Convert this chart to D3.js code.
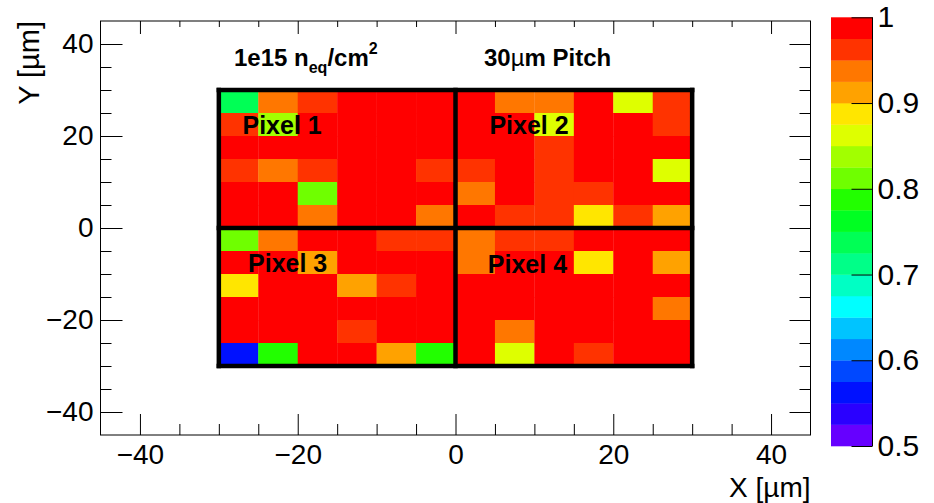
<!DOCTYPE html>
<html>
<head>
<meta charset="utf-8">
<script src="https://cdn.jsdelivr.net/npm/d3@7"></script>
<style>
  html, body { margin: 0; padding: 0; background: #fff; }
  svg { display: block; font-family: "Liberation Sans", Arial, Helvetica, sans-serif; }
</style>
</head>
<body>
<svg id="chart" width="934" height="503"></svg>
<script>
// Bin lower edges (µm): 6 bins of 5 µm across each 30 µm pixel
const xEdgesLeft  = [-30, -25, -20, -15, -10, -5];
const xEdgesRight = [0, 5, 10, 15, 20, 25];
const yEdgesTop    = [25, 20, 15, 10, 5, 0];        // rows listed top to bottom
const yEdgesBottom = [-5, -10, -15, -20, -25, -30];

// Efficiency per bin, rows top to bottom, columns left to right
const pixel1 = [
  [0.745, 0.935, 0.960, 0.990, 0.995, 0.985],
  [0.962, 0.835, 0.980, 0.990, 0.990, 0.985],
  [0.985, 0.990, 0.980, 0.995, 0.990, 0.980],
  [0.958, 0.930, 0.965, 0.985, 0.980, 0.960],
  [0.985, 0.980, 0.812, 0.990, 0.985, 0.990],
  [0.980, 0.990, 0.935, 0.990, 0.985, 0.938]
];
const pixel2 = [
  [0.985, 0.935, 0.940, 0.990, 0.860, 0.960],
  [0.980, 0.990, 0.865, 0.985, 0.980, 0.965],
  [0.990, 0.980, 0.960, 0.990, 0.985, 0.980],
  [0.962, 0.980, 0.968, 0.990, 0.980, 0.862],
  [0.932, 0.985, 0.960, 0.963, 0.990, 0.980],
  [0.980, 0.960, 0.958, 0.885, 0.965, 0.910]
];
const pixel3 = [
  [0.815, 0.935, 0.980, 0.990, 0.960, 0.965],
  [0.985, 0.980, 0.912, 0.990, 0.980, 0.985],
  [0.888, 0.980, 0.990, 0.908, 0.960, 0.985],
  [0.990, 0.985, 0.980, 0.990, 0.985, 0.980],
  [0.985, 0.990, 0.980, 0.960, 0.985, 0.990],
  [0.560, 0.785, 0.980, 0.985, 0.910, 0.788]
];
const pixel4 = [
  [0.935, 0.962, 0.960, 0.985, 0.990, 0.980],
  [0.938, 0.980, 0.985, 0.885, 0.980, 0.912],
  [0.990, 0.985, 0.980, 0.990, 0.985, 0.980],
  [0.985, 0.980, 0.990, 0.985, 0.980, 0.935],
  [0.980, 0.932, 0.985, 0.990, 0.980, 0.985],
  [0.985, 0.862, 0.980, 0.960, 0.990, 0.985]
];

const pixelNames = ["Pixel 1", "Pixel 2", "Pixel 3", "Pixel 4"];
const pixelEdges = [-30, 0, 30];
const binWidth = 5;

const axisMajor = [-40, -20, 0, 20, 40];
const axisMinor = [-35, -30, -25, -15, -10, -5, 5, 10, 15, 25, 30, 35];
const paletteTicks = [0.5, 0.6, 0.7, 0.8, 0.9, 1];

// 20-level rainbow palette, low (violet) to high (red)
const palette = [
  "#6600ff", "#2a00ff", "#0011ff", "#0048ff", "#0088ff",
  "#00c4ff", "#00ffff", "#00ffc4", "#00ff88", "#00ff55",
  "#00ff22", "#22ff00", "#6fff00", "#a2ff00", "#deff00",
  "#ffe600", "#ffa200", "#ff7700", "#ff3300", "#ff0000"
];

const svg = d3.select("#chart");
svg.append("rect").attr("width", 934).attr("height", 503).attr("fill", "#fff");

const frame = { left: 100.5, right: 810.5, top: 21, bottom: 435 };
const x = d3.scaleLinear().domain([-45, 45]).range([frame.left, frame.right]);
const y = d3.scaleLinear().domain([-45, 45]).range([frame.bottom, frame.top]);
const color = d3.scaleQuantize().domain([0.5, 1]).range(palette);

// Heatmap cells
const cells = [];
[[pixel1, xEdgesLeft, yEdgesTop], [pixel2, xEdgesRight, yEdgesTop],
 [pixel3, xEdgesLeft, yEdgesBottom], [pixel4, xEdgesRight, yEdgesBottom]]
  .forEach(([grid, xs, ys]) => {
    grid.forEach((row, r) => row.forEach((v, c) => {
      cells.push({ x0: xs[c], y0: ys[r], v });
    }));
  });

svg.append("g").selectAll("rect").data(cells).join("rect")
  .attr("x", d => x(d.x0))
  .attr("y", d => y(d.y0 + binWidth))
  .attr("width", d => x(d.x0 + binWidth) - x(d.x0) + 0.3)
  .attr("height", d => y(d.y0) - y(d.y0 + binWidth) + 0.3)
  .attr("fill", d => color(d.v));

// Pixel boundaries
const gridLines = svg.append("g").attr("stroke", "#000").attr("stroke-width", 4.5)
  .attr("stroke-linecap", "square");
pixelEdges.forEach(e => {
  gridLines.append("line")
    .attr("x1", x(e)).attr("x2", x(e))
    .attr("y1", y(pixelEdges[0])).attr("y2", y(pixelEdges[2]));
  gridLines.append("line")
    .attr("y1", y(e)).attr("y2", y(e))
    .attr("x1", x(pixelEdges[0])).attr("x2", x(pixelEdges[2]));
});

// Pixel labels
const pixelLabelPos = [[-27, 20.5], [4.3, 20.5], [-26.3, -9.5], [4.1, -9.8]];
svg.append("g").selectAll("text").data(pixelNames).join("text")
  .attr("x", (d, i) => x(pixelLabelPos[i][0]))
  .attr("y", (d, i) => y(pixelLabelPos[i][1]))
  .attr("font-size", 25).attr("font-weight", "bold").attr("fill", "#000")
  .text(d => d);

// Axes (ticks pointing inward on all four sides)
function styleAxis(g) {
  g.select(".domain").remove();
  g.selectAll(".tick line").attr("stroke", "#000").attr("stroke-width", 1);
  g.selectAll(".tick text").attr("fill", "#000").attr("font-size", 28)
    .attr("font-family", "Liberation Sans, Arial, sans-serif");
}
const fmt = d => d < 0 ? "\u2212" + Math.abs(d) : String(d);

svg.append("g").attr("transform", `translate(0,${frame.bottom})`)
  .call(d3.axisBottom(x).tickValues(axisMajor).tickSize(-21).tickPadding(9).tickFormat(fmt))
  .call(styleAxis);
svg.append("g").attr("transform", `translate(0,${frame.bottom})`)
  .call(d3.axisBottom(x).tickValues(axisMinor).tickSize(-11).tickFormat(""))
  .call(styleAxis);
svg.append("g").attr("transform", `translate(0,${frame.top})`)
  .call(d3.axisTop(x).tickValues(axisMajor).tickSize(-13).tickFormat(""))
  .call(styleAxis);
svg.append("g").attr("transform", `translate(0,${frame.top})`)
  .call(d3.axisTop(x).tickValues(axisMinor).tickSize(-6).tickFormat(""))
  .call(styleAxis);

svg.append("g").attr("transform", `translate(${frame.left},0)`)
  .call(d3.axisLeft(y).tickValues(axisMajor).tickSize(-22).tickPadding(7).tickFormat(fmt))
  .call(styleAxis);
svg.append("g").attr("transform", `translate(${frame.left},0)`)
  .call(d3.axisLeft(y).tickValues(axisMinor).tickSize(-11).tickFormat(""))
  .call(styleAxis);
svg.append("g").attr("transform", `translate(${frame.right},0)`)
  .call(d3.axisRight(y).tickValues(axisMajor).tickSize(-21).tickFormat(""))
  .call(styleAxis);
svg.append("g").attr("transform", `translate(${frame.right},0)`)
  .call(d3.axisRight(y).tickValues(axisMinor).tickSize(-11).tickFormat(""))
  .call(styleAxis);

// Frame
svg.append("rect")
  .attr("x", frame.left).attr("y", frame.top)
  .attr("width", frame.right - frame.left).attr("height", frame.bottom - frame.top)
  .attr("fill", "none").attr("stroke", "#000").attr("stroke-width", 1);

// Axis titles
svg.append("text").attr("x", frame.right).attr("y", 497)
  .attr("text-anchor", "end").attr("font-size", 28).attr("fill", "#000")
  .text("X [\u00b5m]");
svg.append("text")
  .attr("transform", `translate(39,${frame.top}) rotate(-90)`)
  .attr("text-anchor", "end").attr("font-size", 29).attr("fill", "#000")
  .text("Y [\u00b5m]");

// Header texts
const head1 = svg.append("text").attr("x", 234).attr("y", 66)
  .attr("font-size", 24).attr("font-weight", "bold").attr("fill", "#000");
head1.append("tspan").text("1e15 n");
head1.append("tspan").attr("font-size", 16).attr("dy", 7).text("eq");
head1.append("tspan").attr("dy", -7).text("/cm");
head1.append("tspan").attr("font-size", 16).attr("dy", -12).text("2");

const head2 = svg.append("text").attr("x", 484).attr("y", 66)
  .attr("font-size", 24).attr("font-weight", "bold").attr("fill", "#000");
head2.append("tspan").text("30");
head2.append("tspan").attr("font-weight", "normal").text("\u00b5");
head2.append("tspan").text("m Pitch");

// Colour palette bar
const bar = { left: 831, right: 872.5, top: 17.3, bottom: 446 };
const yc = d3.scaleLinear().domain([0.5, 1]).range([bar.bottom, bar.top]);
svg.append("g").selectAll("rect").data(color.range()).join("rect")
  .attr("x", bar.left)
  .attr("width", bar.right - bar.left)
  .attr("y", c => yc(color.invertExtent(c)[1]))
  .attr("height", c => yc(color.invertExtent(c)[0]) - yc(color.invertExtent(c)[1]) + 0.3)
  .attr("fill", c => c);

const barAxis = svg.append("g").attr("transform", `translate(${bar.right},0)`)
  .call(d3.axisRight(yc).tickValues(paletteTicks).tickSize(-21).tickPadding(5).tickFormat(d => String(d)))
  .call(styleAxis);
svg.append("line").attr("x1", bar.right).attr("x2", bar.right)
  .attr("y1", bar.top).attr("y2", bar.bottom).attr("stroke", "#000").attr("stroke-width", 1);
barAxis.selectAll(".tick text").attr("font-size", 30);
</script>
</body>
</html>
